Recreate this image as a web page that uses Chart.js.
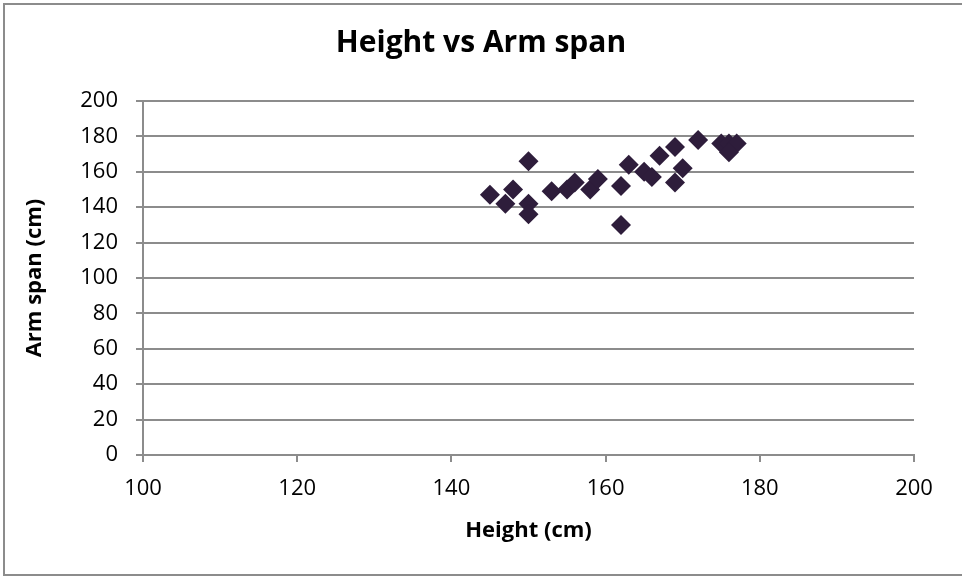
<!DOCTYPE html>
<html>
<head>
<meta charset="utf-8">
<script src="https://cdn.jsdelivr.net/npm/chart.js@4"></script>
<style>
  html, body { margin: 0; padding: 0; background: #fff; }
  #wrap { position: relative; width: 962px; height: 579px; overflow: hidden; }
  #frame { position: absolute; left: 3px; top: 3px; width: 970px; height: 573px;
           border: 2px solid #8c8c8c; box-sizing: border-box; }
  canvas { position: absolute; left: 0; top: 0; }
</style>
</head>
<body>
<div id="wrap">
  <div id="frame"></div>
  <canvas id="chart" width="962" height="579"></canvas>
</div>
<script>
// Height (cm) vs arm span (cm)
const heights = [145, 147, 148, 150, 150, 150, 153, 155, 156, 158, 159, 162, 162, 163,
                 165, 166, 167, 169, 169, 170, 172, 175, 176, 177, 176];
const armSpans = [147, 142, 150, 166, 142, 136, 149, 150, 154, 150, 156, 152, 130, 164,
                  160, 157, 169, 174, 154, 162, 178, 176, 176, 176, 171];

const xTicks = [100, 120, 140, 160, 180, 200];
const yTicks = [0, 20, 40, 60, 80, 100, 120, 140, 160, 180, 200];

const points = heights.map((h, i) => ({ x: h, y: armSpans[i] }));

const fontFamily = '"Open Sans", sans-serif';
const axisColor = '#8c8c8c';

new Chart(document.getElementById('chart'), {
    type: 'scatter',
    data: {
        datasets: [{
            label: 'Arm span',
            data: points,
            pointStyle: 'rectRot',
            pointRadius: 10,
            pointHoverRadius: 10,
            backgroundColor: '#2e1d3b',
            borderColor: '#2e1d3b',
            borderWidth: 0
        }]
    },
    options: {
        responsive: false,
        animation: false,
        layout: { padding: { left: 0, right: 0, top: 0, bottom: 0 } },
        plugins: {
            legend: { display: false },
            tooltip: { enabled: false },
            title: {
                display: true,
                text: 'Height vs Arm span',
                color: '#000',
                font: { family: fontFamily, size: 30, weight: 'bold' },
                padding: { top: 25, bottom: 40 }
            }
        },
        scales: {
            x: {
                type: 'linear',
                min: 100,
                max: 200,
                afterBuildTicks: (scale) => { scale.ticks = xTicks.map(v => ({ value: v })); },
                afterFit: (scale) => { scale.height = 124; },
                grid: { drawOnChartArea: false, drawTicks: true, tickLength: 7, color: axisColor, lineWidth: 2 },
                border: { color: axisColor, width: 2 },
                ticks: { color: '#000', padding: 14, font: { family: fontFamily, size: 22 } },
                title: {
                    display: true,
                    text: 'Height (cm)',
                    color: '#000',
                    font: { family: fontFamily, size: 22, weight: 'bold' },
                    padding: { top: 0, bottom: 35 }
                }
            },
            y: {
                type: 'linear',
                min: 0,
                max: 200,
                afterBuildTicks: (scale) => { scale.ticks = yTicks.map(v => ({ value: v })); },
                afterFit: (scale) => { scale.width = 143; },
                grid: { drawTicks: true, tickLength: 7, color: axisColor, lineWidth: 2 },
                border: { color: axisColor, width: 2 },
                ticks: { color: '#000', padding: 18, font: { family: fontFamily, size: 22 } },
                title: {
                    display: true,
                    text: 'Arm span (cm)',
                    color: '#000',
                    font: { family: fontFamily, size: 22, weight: 'bold' },
                    padding: { top: 22, bottom: 0 }
                }
            },
            // empty right-hand axis that only reserves the margin right of the plot
            spacer: {
                type: 'linear',
                position: 'right',
                display: true,
                afterFit: (scale) => { scale.width = 48; },
                grid: { display: false },
                border: { display: false },
                ticks: { display: false }
            }
        }
    }
});
</script>
</body>
</html>
